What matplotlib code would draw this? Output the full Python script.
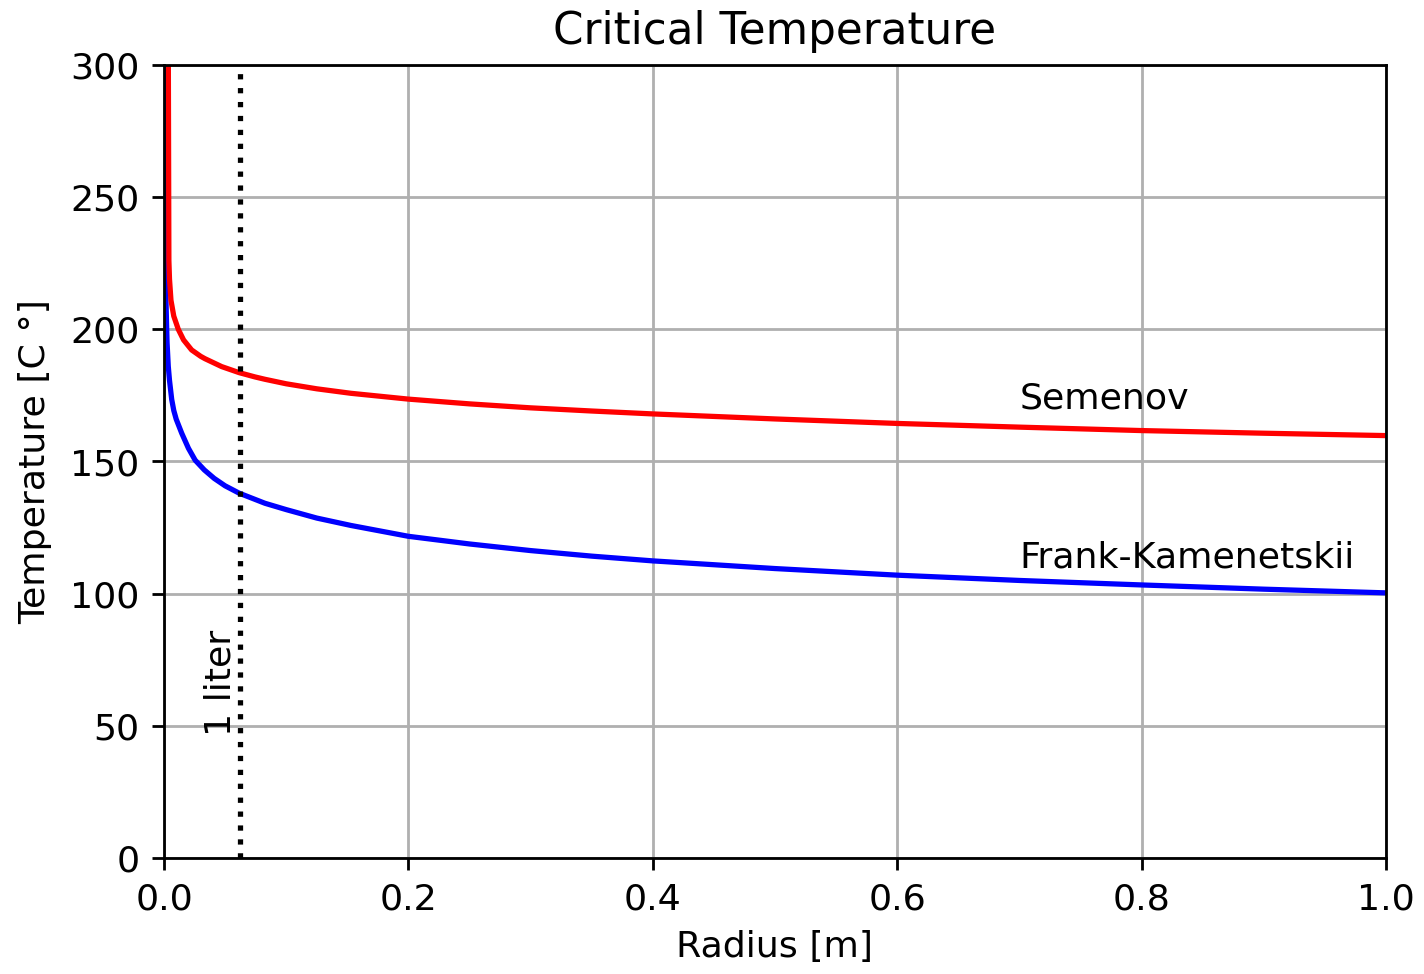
import matplotlib
matplotlib.use("Agg")
import matplotlib.pyplot as plt

# Radius [m] sample points and read-off critical temperatures [C]
semenov_r = [0.0035, 0.004, 0.0045, 0.0057, 0.008, 0.0117, 0.016, 0.0226, 0.03,
             0.0335, 0.0472, 0.0616, 0.0744, 0.0826, 0.1, 0.125, 0.153, 0.2, 0.25,
             0.3, 0.35, 0.4, 0.5, 0.6, 0.7, 0.8, 0.9, 1.0]
semenov_T = [310, 226, 219, 211, 205, 200, 196, 192.2, 189.8,
             188.9, 185.9, 183.6, 182.0, 181.1, 179.4, 177.5, 175.8, 173.6, 171.8,
             170.3, 169.1, 168.0, 166.1, 164.4, 163.0, 161.7, 160.7, 159.8]

fk_r = [0.001, 0.0016, 0.0025, 0.0035, 0.0045, 0.0063, 0.008, 0.01, 0.0145, 0.02,
        0.0255, 0.033, 0.0411, 0.05, 0.0616, 0.0826, 0.1, 0.125, 0.153, 0.2,
        0.25, 0.3, 0.35, 0.4, 0.5, 0.6, 0.7, 0.8, 0.9, 1.0]
fk_T = [310, 211, 195, 186, 180.7, 173.5, 169.3, 166, 160.7, 155.0,
        150.5, 146.8, 143.6, 140.8, 138.0, 134.2, 131.8, 128.6, 125.8, 121.7,
        118.8, 116.3, 114.2, 112.4, 109.5, 107.0, 105.0, 103.3, 101.7, 100.3]

one_liter_r = 0.062
x_ticks = [0.0, 0.2, 0.4, 0.6, 0.8, 1.0]
y_ticks = [0, 50, 100, 150, 200, 250, 300]

FS = 10.4
DPI = 252
fig = plt.figure(figsize=(1424 / DPI, 974 / DPI), dpi=DPI)
ax = fig.add_axes([164 / 1424, 1 - 858 / 974, (1386 - 164) / 1424, (858 - 65) / 974])

ax.plot(fk_r, fk_T, color="blue", lw=1.5)
ax.plot(semenov_r, semenov_T, color="red", lw=1.5)
ax.axvline(one_liter_r, color="black", ls=":", lw=1.5)

ax.text(0.7, 170, "Semenov", fontsize=FS)
ax.text(0.7, 110, "Frank-Kamenetskii", fontsize=FS)
ax.text(0.06, 46, "1 liter", rotation=90, ha="right", va="bottom", fontsize=FS)

ax.set_xlim(0, 1)
ax.set_ylim(0, 300)
ax.set_xticks(x_ticks)
ax.set_yticks(y_ticks)
ax.tick_params(labelsize=FS)
ax.grid(True)
ax.set_title("Critical Temperature", fontsize=FS * 1.2)
ax.set_xlabel("Radius [m]", fontsize=FS)
ax.set_ylabel("Temperature [C °]", fontsize=FS, labelpad=5)

fig.savefig("out.png", dpi=DPI)
